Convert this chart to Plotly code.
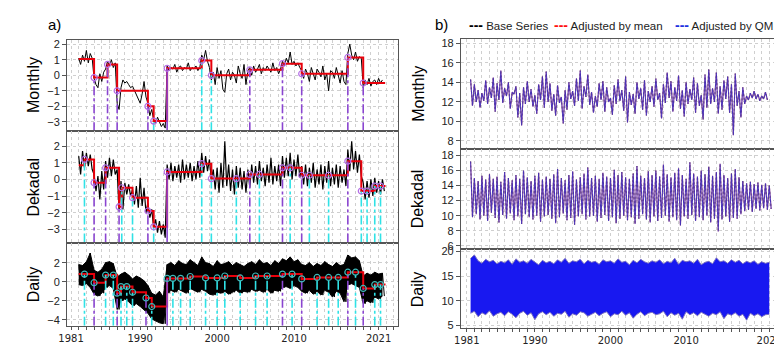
import plotly.graph_objects as go

W, H = 782, 350
def px(x): return x / W
def py(y): return 1 - y / H

# ================= PANEL a) : anomalies with break points =================
# ---- Monthly (quarterly-read samples from 1982.0, step 0.25 yr)
mon_a_t0, mon_a_dt = 1982.0, 0.25
mon_a_vals = [1.1, 0.7, 1.3, 0.9, 1.6, 0.8, 1.4, 1.1,
              -0.2, -0.6, -0.8, 0.1, -0.4, 0.2, 0.4,
              0.9, 0.6, 1.0, 0.5, 0.8,
              -1.8, -2.2, -0.8, -0.3, -0.5, -0.4, -0.6, -0.8, -0.7, -1.0, -1.3, -1.6, -1.8, -1.2, -0.4, -1.4,
              -1.8, -2.6, -2.2,
              -2.9, -3.1, -2.7, -3.0, -3.3, -3.1, -3.4,
              0.6, 0.3, 0.5, 0.4, 0.7, 0.2, 0.5, 0.6, 0.3, 0.5, 0.4, 0.8, 0.3, 0.5, 0.4, 0.6, 0.3, 0.5,
              1.3, 1.0, 1.6, 0.9, 0.5,
              -0.3, 0.2, -0.6, 0.5, -0.2, 0.3, -0.9, -1.1, 0.1, 0.4, -0.3, 0.2, 0.0, -0.5, 0.6, 0.1, -0.2, 0.7, -0.6, 0.3,
              0.5, 0.0, 0.6, 0.2, 0.4, 0.7, 0.1, 0.5, 0.3, 0.6, 0.4, 0.2, 0.8, 0.3, 0.5, 0.1, 0.4,
              0.9, 0.6, 1.1, 0.8, 1.5, 0.7, 0.9, 0.6, 0.8, 0.5,
              0.3, -0.2, 0.4, 0.1, -0.4, 0.5, 0.0, -0.3, 0.4, 0.2, -0.1, 0.6, -0.3, 0.1, -1.0, 0.3, 0.2, -0.2, 0.5, 0.0, -0.5, 0.3, -0.4, -0.6,
              1.4, 2.0, 1.3, 1.0, 1.5, 0.9, 1.2, 1.1,
              -0.8, -0.3, -0.6, -0.2, -0.7, -0.4, -0.3, -0.6, -0.2, -0.5, -0.3]
mon_a_seg_x = [1982.0, 1984.0, 1985.75, 1987.0, 1991.0, 1991.75, 1993.5, 1998.0, 1999.25, 2004.25, 2008.5, 2011.0, 2017.0, 2019.0]
mon_a_seg_lvl = [1.05, -0.15, 0.7, -1.0, -2.0, -2.95, 0.45, 0.95, 0.0, 0.35, 0.75, 0.1, 1.15, -0.5]
mon_a_end = 2021.85
mon_a_brk_x = [1984.0, 1985.75, 1987.0, 1991.0, 1991.75, 1993.5, 1998.0, 1999.25, 2004.25, 2008.5, 2011.0, 2017.0, 2019.0]
mon_a_brk_c = ['p', 'p', 'p', 'p', 'c', 's', 'c', 'c', 'p', 'p', 'p', 'p', 'p']

# ---- Dekadal (half-year envelopes from 1982.0)
dek_a_t0, dek_a_dt = 1982.0, 0.5
dek_a_hi = [1.4, 1.7, 1.6, 1.5, 0.3, 0.2, 0.5, 1.1, 1.3, 1.2,
            0.6, -0.1, -0.2, -0.3, -0.6, -0.4, 0.1, -0.5, -1.4, -1.8,
            -2.4, -2.5, -2.7, 0.9, 1.0, 0.8, 0.9, 1.2, 0.9, 1.0,
            0.8, 1.1, 1.6, 1.4, 1.2, 0.6, 0.7, 1.0, 2.3, 0.9,
            0.6, 0.8, 0.7, 0.5, 0.6, 0.9, 0.8, 1.1, 0.7, 0.9,
            1.3, 0.8, 0.9, 1.4, 1.3, 1.6, 1.2, 1.5, 0.8, 0.9,
            0.7, 1.0, 0.6, 0.9, 0.8, 1.1, 0.7, 0.9, 0.8, 0.6,
            1.8, 2.3, 1.7, 1.5, -0.2, -0.1, 0.0, 0.1, -0.1, 0.0]
dek_a_lo = [0.3, 0.7, 0.8, 0.6, -0.7, -1.2, -0.6, 0.1, 0.2, 0.3,
            -1.9, -1.8, -0.9, -1.0, -1.5, -1.7, -1.6, -2.0, -2.3, -2.9,
            -3.2, -3.3, -3.5, 0.0, -0.1, 0.1, -0.2, 0.0, 0.1, -0.1,
            0.0, 0.1, 0.4, 0.5, 0.0, -0.6, -0.8, -0.5, -0.4, -0.7,
            -0.9, -0.5, -0.6, -0.8, -0.5, -0.2, -0.3, -0.1, -0.4, -0.2,
            -0.3, -0.1, -0.4, 0.1, 0.2, 0.0, 0.2, 0.1, -0.3, -0.4,
            -0.2, -0.5, -0.3, -0.6, -0.2, -0.4, -0.3, -0.5, -0.2, -0.4,
            0.5, 0.6, 0.4, 0.2, -1.2, -1.1, -1.0, -0.8, -0.9, -0.7]
dek_a_seg_x = [1982.0, 1982.75, 1984.0, 1985.5, 1987.25, 1987.6, 1989.0, 1991.0, 1991.75, 1993.5, 1998.0, 1999.25, 2004.25, 2008.5, 2011.0, 2017.0, 2018.75, 2020.5]
dek_a_seg_lvl = [0.85, 1.2, -0.2, 0.7, -1.65, -0.5, -1.1, -1.9, -2.85, 0.45, 0.95, 0.05, 0.3, 0.7, 0.25, 1.1, -0.7, -0.4]
dek_a_end = 2021.9
dek_a_brk_x = [1982.75, 1984.0, 1985.5, 1987.25, 1987.6, 1989.0, 1991.0, 1991.75, 1993.5, 1998.0, 1999.25, 2002.5,
               2004.25, 2005.5, 2008.5, 2009.5, 2011.0, 2012.0, 2014.5, 2017.0, 2018.75, 2019.5, 2020.5, 2021.25]
dek_a_brk_c = ['c', 'p', 'p', 'p', 'c', 'c', 'p', 'c', 's', 'c', 'c', 'c',
               'p', 'c', 'p', 'c', 'p', 'c', 'c', 'p', 'c', 'c', 'c', 'c']

# ---- Daily (half-year envelopes from 1982.0)
day_a_t0, day_a_dt = 1982.0, 0.5
day_a_hi = [1.8, 1.7, 2.1, 3.0, 1.2, 1.0, 1.3, 2.0, 2.1, 1.9,
            0.5, 0.8, 1.0, 0.7, 0.3, 0.6, 0.4, 0.1, -0.4, -1.2,
            -1.4, -1.0, -1.6, 1.8, 2.0, 1.7, 2.2, 1.9, 1.8, 2.3,
            2.0, 1.7, 2.6, 2.0, 1.9, 1.6, 2.2, 1.8, 1.9, 2.1,
            1.7, 2.0, 1.8, 1.6, 1.9, 2.1, 1.8, 2.3, 1.9, 2.0,
            1.7, 2.2, 1.9, 2.4, 2.2, 2.6, 2.1, 2.3, 1.8, 1.7,
            2.0, 1.6, 1.9, 1.7, 2.1, 1.8, 1.6, 2.0, 1.7, 1.8,
            2.8, 2.5, 2.6, 2.2, 0.6, 0.9, 0.7, 1.0, 0.8, 0.9]
day_a_lo = [-0.3, -0.4, -0.2, -0.6, -1.3, -1.5, -1.2, -0.6, -0.4, -0.7,
            -2.9, -2.0, -1.8, -2.1, -2.5, -2.3, -2.6, -3.0, -3.3, -3.9,
            -4.1, -4.3, -4.4, -1.2, -0.9, -1.1, -0.8, -1.0, -1.2, -0.7,
            -0.9, -1.1, -0.8, -1.0, -1.3, -1.4, -1.1, -1.2, -1.0, -1.3,
            -1.1, -0.9, -1.2, -1.0, -1.1, -0.8, -1.0, -0.9, -1.1, -0.8,
            -1.2, -0.9, -1.0, -0.6, -0.5, -0.7, -0.4, -0.6, -1.0, -1.2,
            -0.9, -1.3, -1.0, -1.4, -0.9, -1.1, -1.6, -1.0, -1.2, -2.1,
            -0.3, -0.2, -0.4, -0.6, -2.3, -2.0, -2.2, -1.6, -1.8, -1.5]
day_a_seg_x = [1982.0, 1984.0, 1985.5, 1987.0, 1987.5, 1989.0, 1990.75, 1991.5, 1993.5, 1996.5, 1998.5, 2001.0,
               2003.0, 2005.0, 2008.5, 2011.0, 2013.0, 2017.0, 2019.0, 2020.5]
day_a_seg_lvl = [0.8, -0.1, 0.7, -1.2, -0.5, -1.1, -1.7, -2.6, 0.35, 0.55, 0.4, 0.6,
                 0.4, 0.6, 0.8, 0.3, 0.45, 1.0, -0.7, -0.3]
day_a_end = 2021.9
day_a_brk_x = [1982.75, 1984.0, 1985.5, 1986.5, 1987.0, 1987.5, 1988.25, 1989.0, 1990.75, 1991.5, 1993.5, 1994.25,
               1995.25, 1996.5, 1998.5, 2000.0, 2001.0, 2003.0, 2005.0, 2006.5, 2008.5, 2009.75, 2011.0, 2013.0,
               2014.5, 2015.75, 2017.0, 2018.0, 2019.0, 2020.5, 2021.25]
day_a_brk_c = ['c', 'p', 'c', 'c', 'p', 'c', 'c', 'c', 'p', 'c', 's', 'c',
               'c', 'c', 'c', 'c', 'c', 'c', 'c', 'c', 'p', 'c', 'p', 'c',
               'c', 'c', 'p', 'c', 'p', 'c', 'c']

# ================= PANEL b) : base and adjusted series =================
mon_b_t0, mon_b_dt = 1981.5, 0.25
mon_b_base = [14.3, 11.6, 13.8, 12.0, 13.2, 11.4, 12.9, 12.1,
              14.2, 11.8, 13.5, 12.4, 14.5, 11.0, 13.9, 12.2,
              15.2, 11.9, 13.4, 12.6, 14.0, 11.3, 13.0, 12.8,
              13.6, 10.4, 12.9, 9.6, 13.5, 11.8, 14.1, 12.0,
              13.3, 11.5, 12.7, 10.8, 13.8, 12.2, 14.6, 11.4,
              15.1, 12.0, 13.9, 11.1, 12.8, 10.6, 13.7, 11.9,
              12.5, 9.8, 13.2, 11.2, 14.0, 12.3, 13.1, 11.6,
              14.4, 12.1, 15.2, 11.3, 13.6, 12.5, 14.8, 11.7,
              13.0, 10.9, 12.6, 11.5, 13.9, 12.2, 14.1, 11.0,
              13.5, 12.0, 12.4, 10.7, 13.7, 11.8, 14.3, 12.1,
              13.2, 11.1, 14.6, 9.9, 13.0, 11.7, 12.8, 10.8,
              14.0, 12.3, 13.4, 11.2, 14.2, 10.6, 13.1, 12.0,
              13.6, 11.5, 14.4, 12.2, 12.9, 10.3, 13.8, 11.9,
              15.0, 12.4, 14.1, 11.0, 13.5, 12.1, 14.7, 11.3,
              13.2, 10.5, 14.0, 11.8, 13.3, 12.2, 14.5, 10.9,
              13.9, 11.6, 12.7, 10.2, 14.8, 11.4, 15.3, 11.8,
              13.4, 12.0, 15.0, 10.8, 13.6, 11.2, 14.2, 12.3,
              14.6, 10.9, 13.8, 8.6, 14.9, 11.6, 13.1, 10.4,
              13.5, 11.8, 12.6, 12.2, 12.9, 12.4, 13.1, 12.3,
              12.8, 12.1, 12.6, 12.3, 13.0, 12.2]

dek_b_t0, dek_b_dt = 1981.5, 0.5
dek_b_hi = [17.2, 15.0, 14.6, 15.3, 14.8, 15.5, 14.9, 15.2, 14.5, 15.8,
            15.0, 14.7, 15.4, 14.9, 16.0, 15.1, 14.6, 15.3, 15.7, 14.8,
            15.2, 14.9, 15.5, 16.2, 15.0, 14.7, 15.4, 15.9, 14.8, 15.1,
            15.6, 16.4, 15.0, 15.3, 14.9, 15.7, 15.2, 15.0, 16.1, 15.4,
            15.8, 15.1, 14.9, 15.6, 16.6, 15.3, 15.0, 15.9, 15.4, 16.0,
            15.2, 16.8, 15.5, 15.1, 15.7, 16.3, 15.4, 14.9, 17.1, 15.6,
            15.2, 16.0, 15.5, 16.5, 15.3, 15.8, 16.9, 15.4, 15.0, 15.6,
            16.2, 15.1, 14.6, 14.3, 14.5, 14.2, 14.4, 14.1, 14.3, 14.0]
dek_b_lo = [9.8, 10.2, 9.5, 10.0, 9.3, 10.4, 9.7, 9.1, 10.1, 9.6,
            10.3, 9.4, 9.9, 8.9, 10.2, 9.8, 9.5, 10.0, 9.2, 9.9,
            10.1, 9.6, 9.0, 9.8, 10.3, 9.4, 9.7, 8.8, 9.9, 10.2,
            9.5, 9.9, 10.0, 9.2, 9.7, 10.1, 9.3, 9.8, 9.0, 9.6,
            10.0, 9.4, 9.8, 8.9, 9.6, 10.2, 9.5, 9.1, 9.9, 9.3,
            9.7, 10.0, 9.2, 9.8, 9.4, 8.7, 9.9, 9.6, 10.1, 9.3,
            9.8, 9.4, 10.0, 9.1, 9.6, 7.9, 9.5, 9.9, 9.2, 9.7,
            9.6, 10.2, 10.6, 10.8, 10.5, 10.9, 10.7, 11.0, 10.8, 10.9]

day_b_t0, day_b_dt = 1981.5, 0.5
day_b_hi = [18.6, 19.3, 18.1, 17.6, 18.4, 17.9, 18.2, 17.5, 18.0, 17.7,
            18.3, 17.4, 18.5, 17.8, 18.1, 17.6, 18.4, 17.9, 17.3, 18.2,
            17.7, 18.0, 17.5, 18.3, 17.8, 18.6, 17.6, 18.1, 17.9, 18.4,
            17.5, 18.2, 17.8, 18.0, 17.4, 18.3, 17.9, 18.1, 17.6, 18.5,
            17.8, 18.0, 17.3, 18.2, 17.7, 18.4, 17.9, 17.6, 18.1, 17.8,
            18.3, 17.5, 18.0, 17.7, 18.6, 17.4, 18.2, 17.9, 18.1, 17.6,
            18.4, 17.3, 17.8, 18.0, 17.5, 18.7, 17.9, 18.1, 17.6, 18.3,
            17.8, 18.2, 17.5, 18.0, 17.7, 18.1, 17.4, 17.9, 17.6, 17.8]
day_b_lo = [7.5, 7.9, 6.8, 7.6, 7.2, 8.0, 6.9, 7.4, 7.7, 7.0,
            7.8, 7.3, 6.6, 7.5, 7.9, 7.1, 7.6, 6.2, 7.4, 7.8,
            7.2, 7.7, 6.9, 7.5, 7.3, 7.9, 6.7, 7.4, 7.1, 7.8,
            7.6, 6.9, 7.3, 7.7, 7.0, 7.5, 7.8, 6.8, 7.4, 7.2,
            7.9, 7.1, 7.6, 6.5, 7.3, 7.8, 7.0, 7.5, 7.7, 7.2,
            7.4, 7.9, 6.8, 7.6, 7.1, 7.5, 6.3, 7.8, 7.2, 7.6,
            7.0, 7.7, 7.3, 6.9, 7.5, 7.2, 7.8, 6.4, 7.4, 7.1,
            7.6, 6.9, 7.3, 6.1, 7.5, 7.0, 7.4, 6.8, 7.2, 7.3]

x_tickvals = [1981, 1990, 2000, 2010, 2021]

# ================= styling =================
PURPLE = '#8a45d0'
CYAN = '#30e2e6'
RED = '#e8000b'
GRID = '#cfcfcf'
FONT = 'Liberation Sans'
# overlapping series in panel b (base / mean-adjusted / QM-adjusted)
B_STYLES = [('rgba(0,0,0,0.6)', '2px,2px'), ('rgba(255,30,30,0.5)', 'solid'), ('rgba(45,45,205,0.8)', 'solid')]

fig = go.Figure()

def times(t0, dt, n):
    return [t0 + dt * i for i in range(n)]

def zigzag(t0, dt, hi, lo):
    xs, ys = [], []
    for i, (h, l) in enumerate(zip(hi, lo)):
        t = t0 + dt * i
        xs += [t, t + dt / 2]
        ys += [h, l]
    return xs, ys

def level_at(seg_x, seg_lvl, t):
    lv = seg_lvl[0]
    for sx, sl in zip(seg_x, seg_lvl):
        if sx <= t + 1e-9:
            lv = sl
    return lv

def add_steps_and_breaks(xa, ya, seg_x, seg_lvl, end, brk_x, brk_c, ybot, mcol):
    fig.add_trace(go.Scatter(x=seg_x + [end], y=seg_lvl + [seg_lvl[-1]], mode='lines',
                             line=dict(color=RED, width=2, shape='hv'), xaxis=xa, yaxis=ya,
                             showlegend=False, hoverinfo='skip'))
    for code, col, dash in [('c', CYAN, 'dashdot'), ('p', PURPLE, 'dashdot'), ('s', PURPLE, 'solid')]:
        xs, ys = [], []
        for b, c in zip(brk_x, brk_c):
            if c == code:
                xs += [b, b, None]
                ys += [ybot, level_at(seg_x, seg_lvl, b), None]
        if xs:
            fig.add_trace(go.Scatter(x=xs, y=ys, mode='lines', line=dict(color=col, width=1.6, dash=dash),
                                     xaxis=xa, yaxis=ya, showlegend=False, hoverinfo='skip'))
    fig.add_trace(go.Scatter(x=brk_x, y=[level_at(seg_x, seg_lvl, b) for b in brk_x], mode='markers',
                             marker=dict(symbol='circle-open', size=6, color=mcol, line=dict(width=1.2)),
                             xaxis=xa, yaxis=ya, showlegend=False, hoverinfo='skip'))

# ---- a) Monthly
fig.add_trace(go.Scatter(x=times(mon_a_t0, mon_a_dt, len(mon_a_vals)), y=mon_a_vals, mode='lines',
                         line=dict(color='black', width=1), xaxis='x', yaxis='y', showlegend=False))
add_steps_and_breaks('x', 'y', mon_a_seg_x, mon_a_seg_lvl, mon_a_end, mon_a_brk_x, mon_a_brk_c, -3.6, '#b46ee6')

# ---- a) Dekadal
zx, zy = zigzag(dek_a_t0, dek_a_dt, dek_a_hi, dek_a_lo)
fig.add_trace(go.Scatter(x=zx, y=zy, mode='lines', line=dict(color='black', width=1.2),
                         xaxis='x2', yaxis='y2', showlegend=False))
add_steps_and_breaks('x2', 'y2', dek_a_seg_x, dek_a_seg_lvl, dek_a_end, dek_a_brk_x, dek_a_brk_c, -3.8, '#b46ee6')

# ---- a) Daily
tx = times(day_a_t0, day_a_dt, len(day_a_hi))
fig.add_trace(go.Scatter(x=tx, y=day_a_lo, mode='lines', line=dict(color='black', width=1),
                         xaxis='x3', yaxis='y3', showlegend=False))
fig.add_trace(go.Scatter(x=tx, y=day_a_hi, mode='lines', line=dict(color='black', width=1),
                         fill='tonexty', fillcolor='black', xaxis='x3', yaxis='y3', showlegend=False))
zx, zy = zigzag(day_a_t0, day_a_dt, day_a_hi, day_a_lo)
fig.add_trace(go.Scatter(x=zx, y=zy, mode='lines', line=dict(color='black', width=1),
                         xaxis='x3', yaxis='y3', showlegend=False))
add_steps_and_breaks('x3', 'y3', day_a_seg_x, day_a_seg_lvl, day_a_end, day_a_brk_x, day_a_brk_c, -4.6, '#3fb8b8')

# ---- b) Monthly
tb = times(mon_b_t0, mon_b_dt, len(mon_b_base))
for col, dash in B_STYLES:
    fig.add_trace(go.Scatter(x=tb, y=mon_b_base, mode='lines', line=dict(color=col, width=1.1, dash=dash),
                             xaxis='x4', yaxis='y4', showlegend=False))

# ---- b) Dekadal
zx, zy = zigzag(dek_b_t0, dek_b_dt, dek_b_hi, dek_b_lo)
for col, dash in B_STYLES:
    fig.add_trace(go.Scatter(x=zx, y=zy, mode='lines', line=dict(color=col, width=1.1, dash=dash),
                             xaxis='x5', yaxis='y5', showlegend=False))

# ---- b) Daily
tx = times(day_b_t0, day_b_dt, len(day_b_hi))
fig.add_trace(go.Scatter(x=tx, y=day_b_lo, mode='lines', line=dict(color='#7a70c0', width=1),
                         xaxis='x6', yaxis='y6', showlegend=False))
fig.add_trace(go.Scatter(x=tx, y=day_b_hi, mode='lines', line=dict(color='#7a70c0', width=1),
                         fill='tonexty', fillcolor='#1818f0', xaxis='x6', yaxis='y6', showlegend=False))

# ================= axes =================
left_x = [px(51), px(388)]
right_x = [px(452), px(774)]
left_rng = [1980.49, 2023.53]
right_rng = [1980.22, 2022.04]

def xax(dom, rng, anchor, bottom):
    d = dict(domain=dom, range=rng, anchor=anchor, showline=True, mirror=True, linecolor='#555555',
             linewidth=1, showgrid=False, zeroline=False,
             minor=dict(dtick=1, tick0=1981, showgrid=True, gridcolor=GRID, griddash='dot', gridwidth=1),
             tickfont=dict(family='DejaVu Sans', size=10, color='#222'))
    if bottom:
        d.update(tickvals=x_tickvals, ticktext=[str(v) for v in x_tickvals], ticks='outside', ticklen=3,
                 tickcolor='#555', showticklabels=True)
        d['minor'].update(ticks='outside', ticklen=3, tickcolor='#555')
    else:
        d.update(tickvals=x_tickvals, showticklabels=False, ticks='')
    return d

def yax(dom, rng, anchor, tv):
    return dict(domain=dom, range=rng, anchor=anchor, showline=True, mirror=True, linecolor='#555555',
                linewidth=1, tickvals=tv, ticks='outside', ticklen=4, tickcolor='#555',
                showgrid=True, gridcolor=GRID, griddash='dot', zeroline=False,
                tickfont=dict(family=FONT, size=11, color='#222'))

layout = dict(
    width=W, height=H, margin=dict(l=0, r=0, t=0, b=0),
    paper_bgcolor='white', plot_bgcolor='white', showlegend=False,
    xaxis=xax(left_x, left_rng, 'y', False),
    xaxis2=xax(left_x, left_rng, 'y2', False),
    xaxis3=xax(left_x, left_rng, 'y3', True),
    xaxis4=xax(right_x, right_rng, 'y4', False),
    xaxis5=xax(right_x, right_rng, 'y5', False),
    xaxis6=xax(right_x, right_rng, 'y6', True),
    yaxis=yax([py(122), py(29)], [-3.6, 2.25], 'x', [-3, -2, -1, 0, 1, 2]),
    yaxis2=yax([py(236), py(122)], [-3.8, 2.9], 'x2', [-3, -2, -1, 0, 1, 2]),
    yaxis3=yax([py(321), py(236)], [-4.6, 4.1], 'x3', [-4, -2, 0, 2]),
    yaxis4=yax([py(140), py(28)], [7.2, 18.4], 'x4', [8, 10, 12, 14, 16, 18]),
    yaxis5=yax([py(243), py(140)], [5.5, 18.9], 'x5', [6, 8, 10, 12, 14, 16, 18]),
    yaxis6=yax([py(323), py(243)], [4.6, 20.4], 'x6', [5, 10, 15, 20]),
)
fig.update_layout(**layout)

ann = []
for text, x, y in [('Monthly', 17, 75), ('Dekadal', 17, 179), ('Daily', 17, 279),
                   ('Monthly', 408, 84), ('Dekadal', 408, 191), ('Daily', 408, 284)]:
    ann.append(dict(text=text, x=px(x), y=py(y), xref='paper', yref='paper', textangle=-90,
                    showarrow=False, font=dict(family=FONT, size=16, color='black'),
                    xanchor='center', yanchor='middle'))
ann.append(dict(text='a)', x=px(38), y=py(13), xref='paper', yref='paper', showarrow=False,
                font=dict(family=FONT, size=15, color='black'), xanchor='center', yanchor='middle'))
ann.append(dict(text='b)', x=px(432), y=py(13), xref='paper', yref='paper', showarrow=False,
                font=dict(family=FONT, size=15, color='black'), xanchor='center', yanchor='middle'))
for col, label, x in [('black', 'Base Series', 458), ('#ff1010', 'Adjusted by mean', 545), ('#2030e0', 'Adjusted by QM', 668)]:
    ann.append(dict(text='<span style="color:%s;font-weight:bold;font-size:14px">---</span> %s' % (col, label),
                    x=px(x), y=py(13), xref='paper', yref='paper', showarrow=False, xanchor='left',
                    yanchor='middle', font=dict(family=FONT, size=11.5, color='#222')))
fig.update_layout(annotations=ann)

fig.write_html("out.html")
